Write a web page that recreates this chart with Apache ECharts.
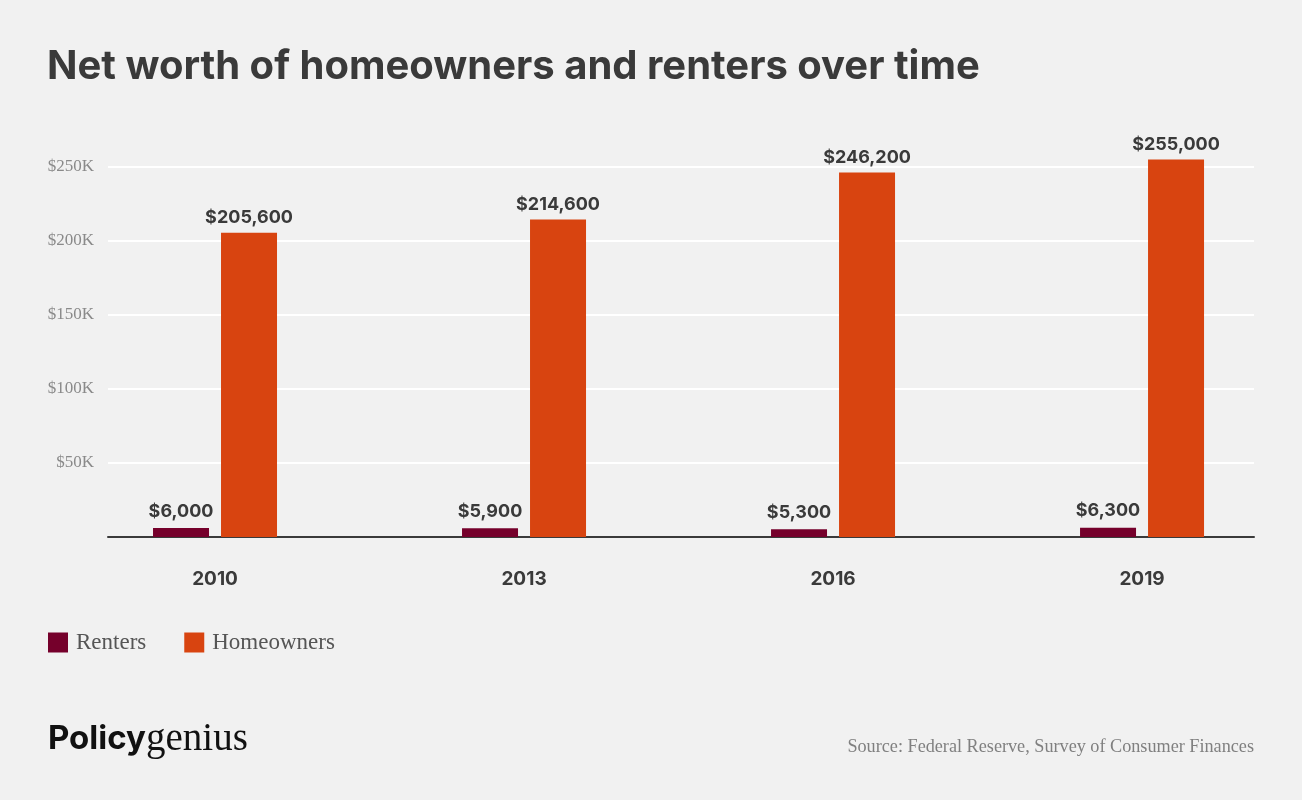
<!DOCTYPE html>
<html>
<head>
<meta charset="utf-8">
<style>
html,body{margin:0;padding:0;background:#f1f1f1;}
#chart{width:1302px;height:800px;}
</style>
<script src="https://cdn.jsdelivr.net/npm/echarts@6/dist/echarts.min.js"></script>
</head>
<body>
<div id="chart"></div>
<script>
// values
var years = [2010, 2013, 2016, 2019];
var renters = [6000, 5900, 5300, 6300];
var homeowners = [205600, 214600, 246200, 255000];
var ticks = [50000, 100000, 150000, 200000, 250000];

var sans = 'Inter, "Noto Sans", sans-serif';
var serif = '"Liberation Serif", "DejaVu Serif", serif';
var dark = '#3a3a3a';

function pairs(values) {
    return values.map(function (v, i) { return [years[i], v]; });
}
function money(p) {
    return '$' + p.value[1].toLocaleString('en-US');
}

var chart = echarts.init(document.getElementById('chart'));
chart.setOption({
    backgroundColor: '#f1f1f1',
    animation: false,
    title: [
        {text: 'Net worth of homeowners and renters over time', left: 47, top: 47, padding: 0,
         textStyle: {fontFamily: 'Inter', fontSize: 40, fontWeight: 700, color: dark}},
        {text: 'Source: Federal Reserve, Survey of Consumer Finances', right: 48, top: 738, padding: 0,
         textStyle: {fontFamily: serif, fontSize: 18.2, fontWeight: 400, color: '#808080'}}
    ],
    graphic: [
        {type: 'text', left: 48, top: 723, style: {text: 'Policy', font: '700 33px Inter', fill: '#111111'}},
        {type: 'text', left: 146, top: 720, style: {text: 'genius', font: '400 39px ' + serif, fill: '#111111'}}
    ],
    legend: {
        left: 48, top: 631, padding: 0, itemWidth: 20, itemHeight: 20, itemGap: 38,
        icon: 'rect',
        data: ['Renters', 'Homeowners'],
        textStyle: {fontFamily: serif, fontSize: 23, color: '#555555', padding: [3, 0, 0, 3]}
    },
    grid: {left: 108, right: 48, top: 152.2, height: 384.8},
    xAxis: {
        type: 'value', min: 2008.961, max: 2020.087,
        splitLine: {show: false},
        axisTick: {show: false},
        axisLine: {lineStyle: {color: dark, width: 2}},
        axisLabel: {
            customValues: years, fontFamily: sans, fontSize: 19, fontWeight: 700, color: dark, margin: 33,
            formatter: function (v) { return String(v); }
        }
    },
    yAxis: {
        type: 'value', min: 0, max: 260000,
        axisLine: {show: false},
        axisTick: {show: false, customValues: ticks},
        splitLine: {lineStyle: {color: '#ffffff', width: 2}},
        axisLabel: {
            customValues: ticks, fontFamily: serif, fontSize: 17, color: '#8a8a8a', margin: 14,
            formatter: function (v) { return '$' + v / 1000 + 'K'; }
        }
    },
    series: [
        {name: 'Renters', type: 'bar', data: pairs(renters), barWidth: 56, barGap: '21.43%',
         itemStyle: {color: '#75002b'},
         label: {show: true, position: 'top', distance: 8, formatter: money,
                 fontFamily: sans, fontSize: 18, fontWeight: 700, color: dark}},
        {name: 'Homeowners', type: 'bar', data: pairs(homeowners), barWidth: 56,
         itemStyle: {color: '#d84410'},
         label: {show: true, position: 'top', distance: 6, formatter: money,
                 fontFamily: sans, fontSize: 18, fontWeight: 700, color: dark}}
    ]
});
</script>
</body>
</html>
